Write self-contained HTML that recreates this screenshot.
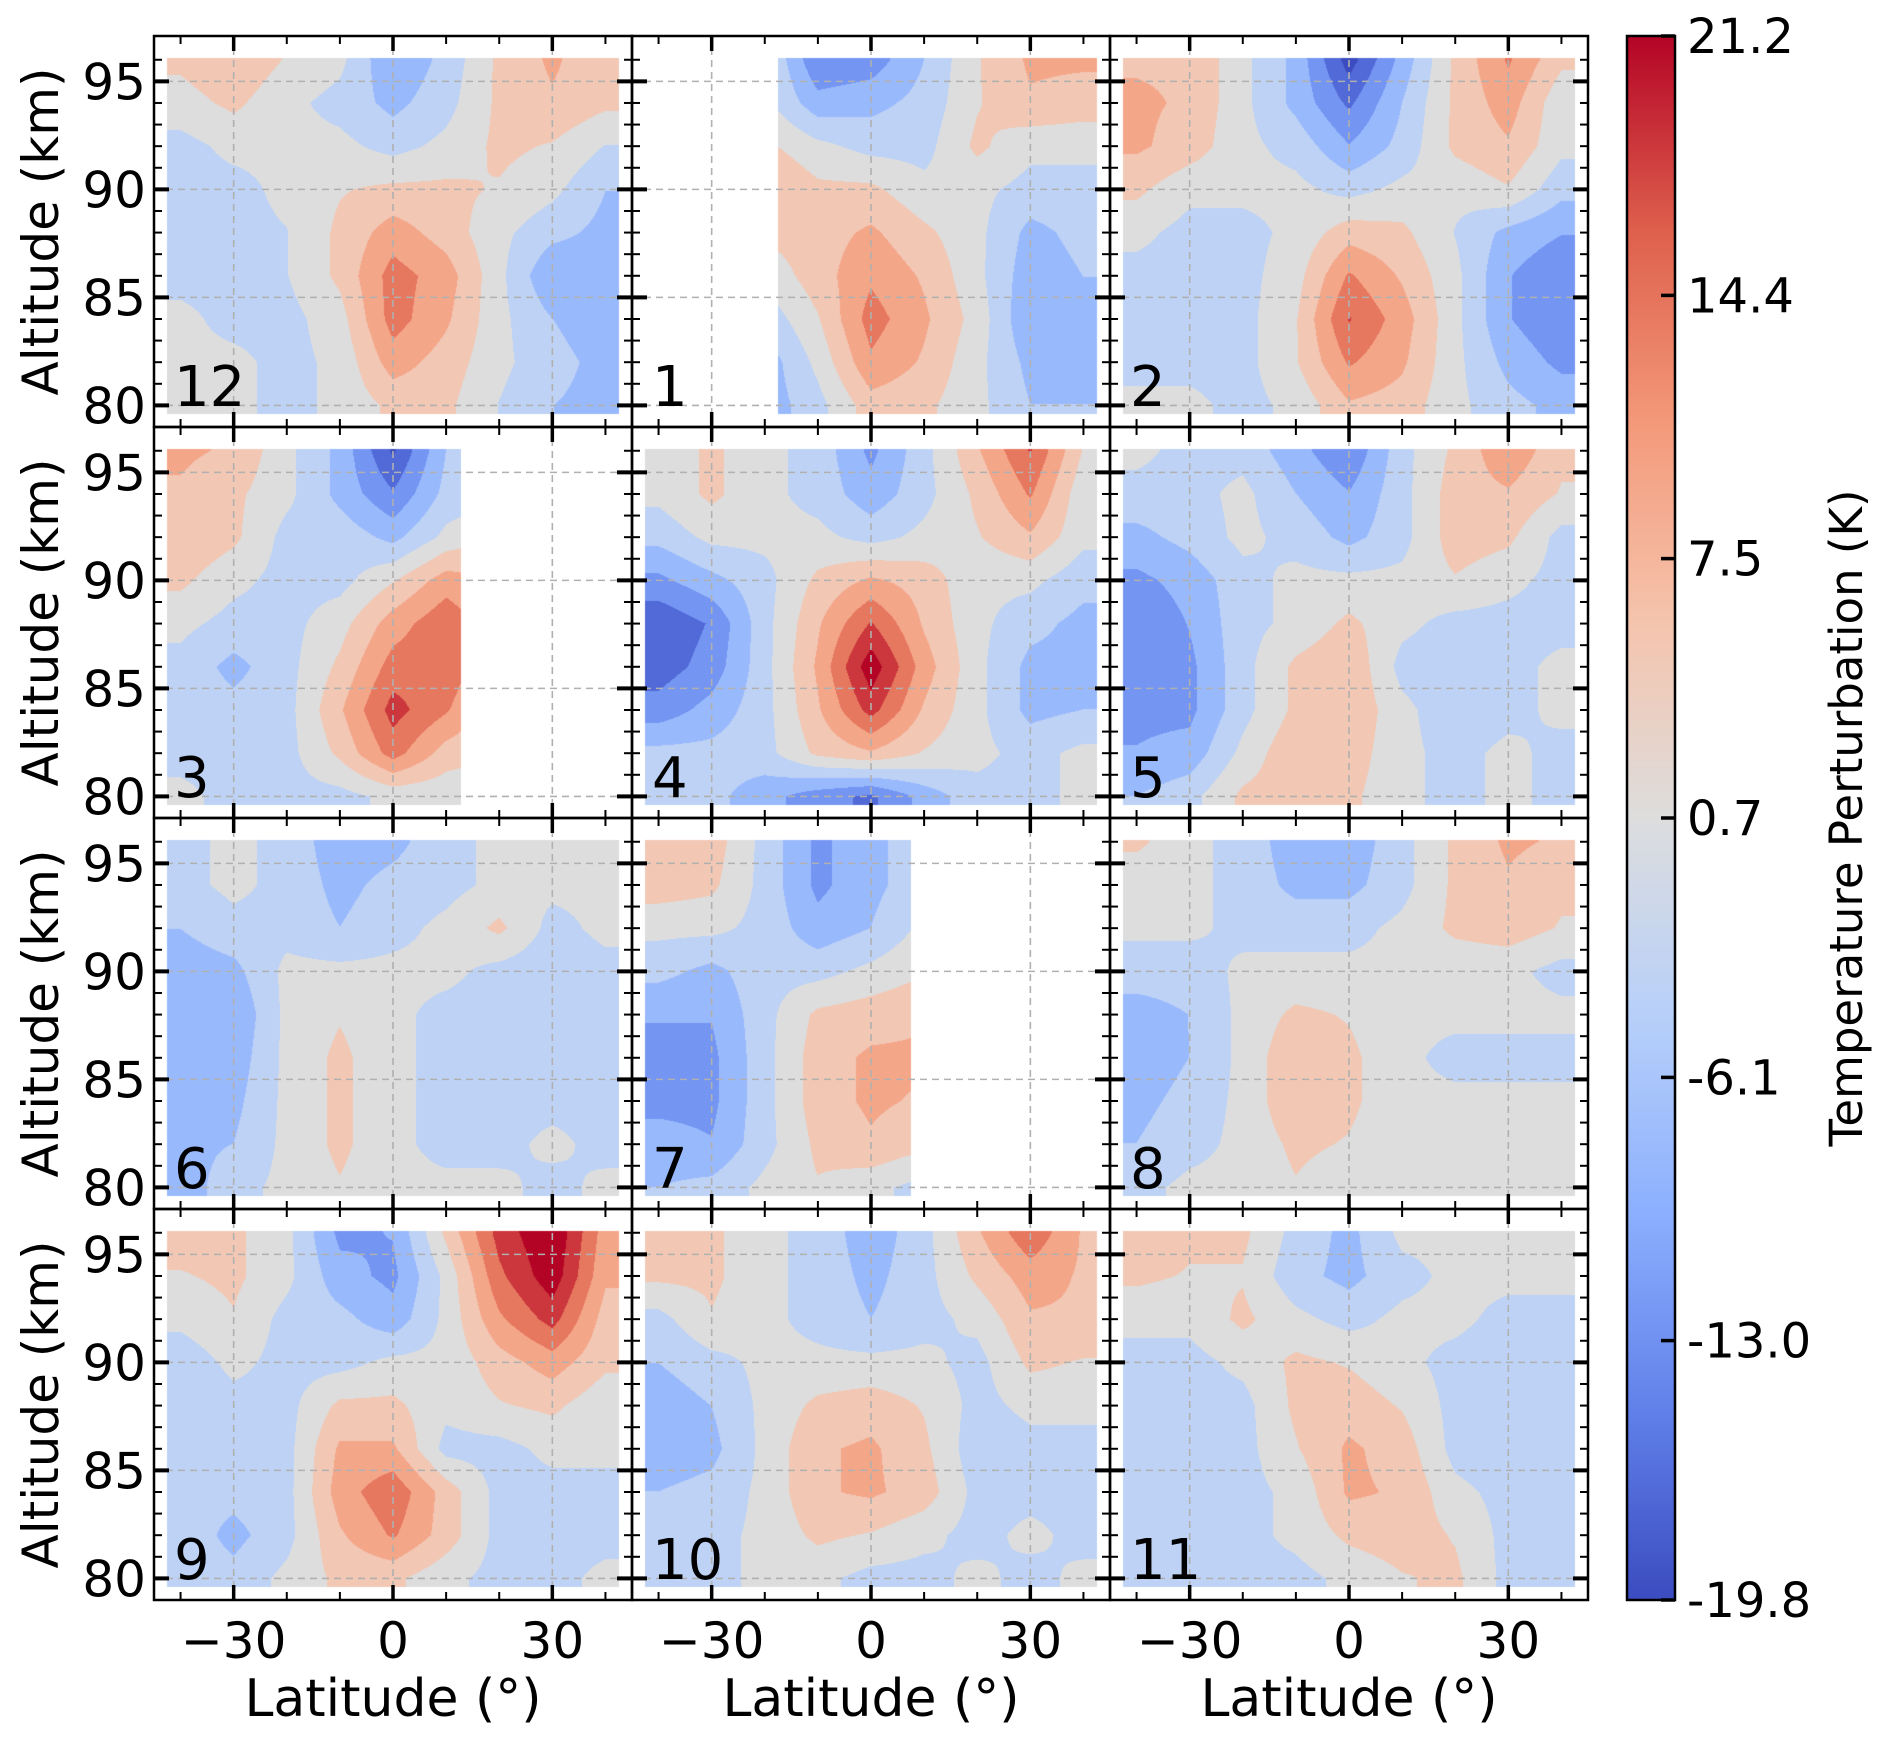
<!DOCTYPE html>
<html><head><meta charset="utf-8">
<style>
html,body{margin:0;padding:0;background:#fff;}
#wrap{position:relative;width:1892px;height:1738px;overflow:hidden;font-family:"DejaVu Sans","Liberation Sans",sans-serif;}
canvas,svg{position:absolute;left:0;top:0;}
</style></head>
<body>
<div id="wrap">
<canvas id="cv" width="1892" height="1738"></canvas>
<svg id="sv" width="1892" height="1738" xmlns="http://www.w3.org/2000/svg"></svg>
</div>
<script>
// grid coordinates
const lats=[-40,-30,-20,-10,0,10,20,30,40];
const alts=[96,94,92,90,88,86,84,82,80];
const panelLabels=["12","1","2","3","4","5","6","7","8","9","10","11"];
const xTicks=[-30,0,30];
const yTicks=[80,85,90,95];
const cbTicks=["21.2","14.4","7.5","0.7","-6.1","-13.0","-19.8"];
const cbTickValues=[21.2,14.4,7.5,0.7,-6.1,-13.0,-19.8];
const latMinByPanel=[-90,-17.5,-90,-90,-90,-90,-90,-90,-90,-90,-90,-90];
const latMaxByPanel=[90,90,90,12.8,90,90,90,7.5,90,90,90,90];

const p12=[[3,5,2,0,-7,-3,3,6,3],[1,3,0,-2,-5,-2,3,5,3],[-2,0,0,0,-2,0,3,2,-1],[-2,-2,0,2,3,3,2,0,-4],[-2,-2,-1,3,7,4,0,-3,-5],[-2,-2,-1,3,10,7,0,-7,-6],[0,-2,-2,1,10,6,0,-4,-6],[0,0,-2,0,7,4,0,-3,-5],[0,0,-2,0,3,3,-1,-4,-5]];
const p1=[[0,0,0,-10,-9,-4,2,6,6],[0,0,0,-6,-5,-3,2,5,4],[3,3,3,0,-2,-2,3,0,0],[6,6,6,3,3,0,0,-2,-2],[3,3,3,4,6,3,0,-5,-3],[0,0,0,4,8,5,0,-6,-4],[-3,-3,-3,2,10,6,1,-7,-5],[-6,-6,-6,0,8,5,0,-5,-5],[-6,-6,-6,-2,4,3,0,-4,-4]];
const p2=[[5,5,0,-5,-15,-6,3,9,3],[6,5,0,-5,-11,-4,3,7,0],[6,4,0,-2,-7,-3,3,5,0],[3,0,0,0,-2,0,0,2,-3],[0,-2,-2,0,4,3,-1,-5,-7],[-2,-2,-2,1,9,5,0,-7,-10],[-2,-2,-2,2,12,7,0,-7,-10],[-2,-2,-2,2,9,6,0,-5,-8],[0,0,-2,0,5,4,0,-3,-5]];
const p3=[[6,5,0,-5,-14,-4,-2,-2,-2],[5,3,0,-5,-10,-3,-2,-2,-2],[5,3,-2,-2,-5,0,3,3,3],[3,0,-2,-2,2,7,5,5,5],[0,-2,-2,1,7,11,6,6,6],[-2,-5,-2,3,10,11,5,5,5],[-2,-3,-2,5,13,9,3,3,3],[-2,-2,-2,3,10,4,2,2,2],[0,-2,-2,-2,0,0,0,0,0]];
const p4=[[0,3,0,-2,-8,-2,5,12,2],[0,3,0,-2,-6,-2,3,9,0],[-3,0,0,0,-2,0,2,5,0],[-8,-5,-2,3,6,4,0,0,-3],[-13,-10,-2,5,12,5,0,-3,-5],[-12,-9,-2,6,17,7,0,-5,-5],[-9,-6,-2,5,13,5,0,-5,-4],[-3,-3,-2,3,5,2,0,-2,0],[-2,-3,-6,-9,-11,-6,-2,-2,0]];
const p5=[[0,-2,-2,-6,-10,-2,3,8,3],[-2,-2,0,-4,-7,-2,4,5,2],[-5,-3,0,-2,-5,-2,4,3,-2],[-8,-6,-2,0,0,0,2,0,-2],[-10,-7,-2,0,3,0,-2,-2,-2],[-9,-8,-2,3,5,-2,-3,-2,0],[-8,-8,-2,3,5,0,-3,-2,0],[-7,-6,0,5,4,0,-2,0,-2],[-4,-2,3,4,3,0,-2,0,-2]];
const p6=[[-2,0,-2,-6,-5,-2,0,0,1],[-2,0,-2,-5,-3,-2,0,0,0],[-4,-2,-2,-4,-2,0,3,-2,0],[-6,-5,0,0,0,0,-2,-3,-2],[-6,-7,0,2,0,-2,-2,-4,-3],[-6,-6,0,3,0,-2,-4,-3,-2],[-6,-5,0,3,0,-2,-2,-2,-2],[-5,-4,0,3,0,-2,-2,0,-2],[-6,-2,0,2,0,0,0,-2,0]];
const p7=[[5,4,-2,-8,-5,-2,-2,-2,-2],[4,3,-2,-8,-5,-2,-2,-2,-2],[0,0,-2,-6,-4,0,0,0,0],[-3,-5,-2,-2,0,2,2,2,2],[-7,-7,-2,3,4,5,5,5,5],[-8,-8,-2,4,6,6,6,6,6],[-8,-8,-2,4,6,5,5,5,5],[-6,-7,-2,3,5,3,3,3,3],[-4,-3,0,2,0,-2,-2,-2,-2]];
const p8=[[3,0,-2,-6,-6,-2,3,6,5],[0,0,-2,-5,-5,-2,3,5,3],[0,0,-2,-2,-2,0,3,4,2],[-3,-3,0,0,0,0,0,0,-2],[-5,-4,0,3,2,0,0,0,0],[-6,-4,0,5,3,0,-2,-2,-2],[-5,-3,0,5,3,0,0,0,0],[-4,-2,0,3,2,0,0,0,0],[-2,0,0,2,0,0,0,0,0]];
const p9=[[4,3,0,-8,-7,3,13,18,7],[2,3,0,-6,-8,0,11,17,6],[0,2,-2,-3,-6,0,8,13,4],[-3,0,-2,-2,0,0,4,7,3],[-3,-2,-2,3,3,0,2,3,0],[-4,-2,-2,6,6,-2,-2,0,0],[-3,-3,-2,7,11,4,-2,-2,-2],[-2,-5,-2,5,9,4,-2,-2,-2],[-2,-3,0,3,3,0,-2,-2,0]];
const p10=[[3,3,0,-2,-6,-2,5,11,5],[3,3,0,-2,-5,-2,3,7,5],[-2,2,0,-2,-4,-2,0,5,5],[-4,-2,0,0,0,0,-2,3,2],[-6,-4,0,3,4,2,-2,0,0],[-6,-5,0,5,6,3,-3,-2,-2],[-4,-3,0,5,6,4,-2,-2,-2],[-2,-2,0,3,2,0,-2,0,-2],[-2,-2,0,0,-2,-2,0,-2,0]];
const p11=[[5,3,3,-2,-5,0,0,0,2],[3,2,2,-3,-5,-2,0,0,0],[0,0,3,0,-2,0,0,-2,-2],[-2,-2,0,3,2,0,-2,-3,-3],[-2,-2,-2,3,4,2,-2,-3,-4],[-2,-3,-2,2,6,4,-2,-3,-3],[-2,-2,-2,0,6,5,0,-2,-3],[-2,-2,-2,0,3,4,2,-2,-2],[-2,-2,-2,-2,0,2,3,-2,-2]];
const panels=[p12,p1,p2,p3,p4,p5,p6,p7,p8,p9,p10,p11];

// layout
const colX=[154,632,1110], rowY=[36,427,818,1209], PW=478, PH=391;
const LAT0=-45, LAT1=45, ALT0=79.0, ALT1=97.1;
const VMIN=-19.8, VMAX=21.2, NB=13, STRETCH=1.4;
function xs(c,lat){return colX[c]+(lat-LAT0)/(LAT1-LAT0)*PW;}
function ys(r,alt){return rowY[r]+(ALT1-alt)/(ALT1-ALT0)*PH;}
const cw=[[0,59,76,192],[0.125,98,130,234],[0.25,141,176,254],[0.375,184,208,249],[0.5,221,221,221],[0.625,245,196,173],[0.75,244,154,123],[0.875,222,96,77],[1,180,4,38]];
function cmap(t){t=Math.max(0,Math.min(1,t));for(let i=1;i<cw.length;i++){if(t<=cw[i][0]){const a=cw[i-1],b=cw[i],f=(t-a[0])/(b[0]-a[0]);return [a[1]+(b[1]-a[1])*f,a[2]+(b[2]-a[2])*f,a[3]+(b[3]-a[3])*f];}}return cw[8].slice(1);}
const bandCols=[];for(let k=0;k<NB;k++)bandCols.push(cmap(0.5+((k+0.5)/NB-0.5)*STRETCH));
function interp(g,lat,alt){
  lat=Math.max(lats[0],Math.min(lats[lats.length-1],lat));
  alt=Math.max(alts[alts.length-1],Math.min(alts[0],alt));
  let fi=(lat-lats[0])/(lats[1]-lats[0]), fj=(alts[0]-alt)/(alts[0]-alts[1]);
  let i=Math.min(lats.length-2,Math.floor(fi)), j=Math.min(alts.length-2,Math.floor(fj));
  const u=fi-i, v=fj-j;
  return g[j][i]*(1-u)*(1-v)+g[j][i+1]*u*(1-v)+g[j+1][i]*(1-u)*v+g[j+1][i+1]*u*v;
}
const ctx=document.getElementById('cv').getContext('2d');
panels.forEach((g,p)=>{
  const c=p%3, r=Math.floor(p/3);
  const la0=Math.max(-42.5,latMinByPanel[p]), la1=Math.min(42.5,latMaxByPanel[p]);
  const x0=Math.round(xs(c,la0)), x1=Math.round(xs(c,la1));
  const y0=Math.round(ys(r,96.1)), y1=Math.round(ys(r,79.6));
  const w=x1-x0, h=y1-y0;
  const img=ctx.createImageData(w,h);
  for(let yy=0;yy<h;yy++){
    const alt=ALT1-(y0+yy+0.5-rowY[r])/PH*(ALT1-ALT0);
    for(let xx=0;xx<w;xx++){
      const lat=LAT0+(x0+xx+0.5-colX[c])/PW*(LAT1-LAT0);
      const v=interp(g,lat,alt);
      let k=Math.floor((v-VMIN)/(VMAX-VMIN)*NB);k=Math.max(0,Math.min(NB-1,k));
      const col=bandCols[k], o=(yy*w+xx)*4;
      img.data[o]=col[0];img.data[o+1]=col[1];img.data[o+2]=col[2];img.data[o+3]=255;
    }
  }
  ctx.putImageData(img,x0,y0);
});

// SVG overlay
const NS="http://www.w3.org/2000/svg", sv=document.getElementById('sv');
function el(tag,attrs,parent){const e=document.createElementNS(NS,tag);for(const k in attrs)e.setAttribute(k,attrs[k]);(parent||sv).appendChild(e);return e;}
for(let p=0;p<12;p++){
  const c=p%3, r=Math.floor(p/3);
  const g=el('g',{});
  
  
  const X0=colX[c],Y0=rowY[r],X1=X0+PW,Y1=Y0+PH;
  xTicks.forEach(t=>{const l=el('line',{x1:xs(c,t),x2:xs(c,t),y1:Y0,y2:Y1,stroke:'#b0b0b0','stroke-width':1.6,'stroke-dasharray':'7,5'},g);
    });
  yTicks.forEach(t=>{const l=el('line',{x1:X0,x2:X1,y1:ys(r,t),y2:ys(r,t),stroke:'#b0b0b0','stroke-width':1.6,'stroke-dasharray':'7,5'},g);
    });
  for(let t=-40;t<=40;t+=10){const maj=xTicks.includes(t);const L=maj?15:8,W=maj?3.5:2;const x=xs(c,t);
    el('line',{x1:x,x2:x,y1:Y1,y2:Y1-L,stroke:'#000','stroke-width':W},g);
    el('line',{x1:x,x2:x,y1:Y0,y2:Y0+L,stroke:'#000','stroke-width':W},g);}
  for(let t=80;t<=96;t+=1){const maj=yTicks.includes(t);const L=maj?15:8,W=maj?4:2;const y=ys(r,t);
    el('line',{x1:X0,x2:X0+L,y1:y,y2:y,stroke:'#000','stroke-width':W},g);
    el('line',{x1:X1,x2:X1-L,y1:y,y2:y,stroke:'#000','stroke-width':W},g);}
  const b=el('rect',{x:X0,y:Y0,width:PW,height:PH,fill:'none',stroke:'#000','stroke-width':2.5},g);
  
  const n=el('text',{x:X0+20,y:Y0+370,'font-size':56,fill:'#000'},g);n.textContent=panelLabels[p];
  
  if(c===0){
    yTicks.forEach(t=>{const tx=el('text',{x:X0-8,y:ys(r,t)+18,'font-size':50,'text-anchor':'end'},g);tx.textContent=String(t);
      });
    const cy=Y0+PH/2;
    const yl=el('text',{x:0,y:0,'font-size':50,'text-anchor':'middle',transform:`translate(58,${cy}) rotate(-90)`},g);yl.textContent='Altitude (km)';
    
  }
  if(r===3){
    xTicks.forEach(t=>{const tx=el('text',{x:xs(c,t),y:1658,'font-size':50,'text-anchor':'middle'},g);tx.textContent=t<0?'\u2212'+Math.abs(t):String(t);
      });
    const xl=el('text',{x:colX[c]+PW/2,y:1716,'font-size':52,'text-anchor':'middle'},g);xl.textContent='Latitude (\u00b0)';
    
  }
}
// colorbar
const defs=el('defs',{});const lg=el('linearGradient',{id:'cb',x1:0,y1:1,x2:0,y2:0},defs);
cw.forEach(s=>el('stop',{offset:s[0],'stop-color':`rgb(${s[1]},${s[2]},${s[3]})`},lg));
const CBX=1627,CBW=48,CBY0=36,CBY1=1600;
const cbg=el('g',{});


el('rect',{x:CBX,y:CBY0,width:CBW,height:CBY1-CBY0,fill:'url(#cb)',stroke:'#000','stroke-width':2.5},cbg);
cbTickValues.forEach((v,i)=>{const y=CBY0+(VMAX-v)/(VMAX-VMIN)*(CBY1-CBY0);
  el('line',{x1:CBX+CBW,x2:CBX+CBW-14,y1:y,y2:y,stroke:'#000','stroke-width':3.5},cbg);
  const t=el('text',{x:CBX+CBW+12,y:y+17,'font-size':48},cbg);t.textContent=cbTicks[i];
  });
const cl=el('text',{x:0,y:0,'font-size':45,'text-anchor':'middle',transform:'translate(1862,818) rotate(-90)'},cbg);cl.textContent='Temperature Perturbation (K)';

</script>
</body></html>
